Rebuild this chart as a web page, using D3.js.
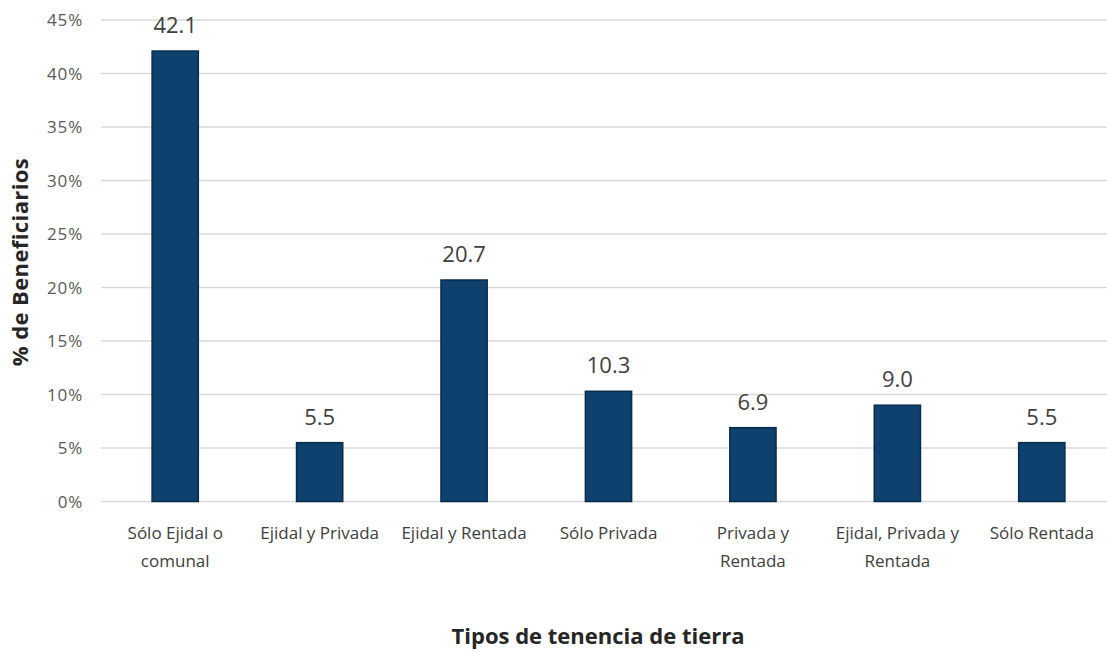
<!DOCTYPE html>
<html>
<head>
<meta charset="utf-8">
<style>
  body { margin: 0; background: #fff; }
  text { font-family: "Open Sans", Lato, sans-serif; }
</style>
</head>
<body>
<svg width="1107" height="652"></svg>
<script src="https://cdn.jsdelivr.net/npm/d3@7"></script>
<script>
  var categories = [["Sólo Ejidal o", "comunal"], ["Ejidal y Privada"], ["Ejidal y Rentada"], ["Sólo Privada"], ["Privada y", "Rentada"], ["Ejidal, Privada y", "Rentada"], ["Sólo Rentada"]];
  var values = [42.1, 5.5, 20.7, 10.3, 6.9, 9.0, 5.5];
  var yTicks = [0, 5, 10, 15, 20, 25, 30, 35, 40, 45];

  var svg = d3.select("svg"),
      width = +svg.attr("width"),
      height = +svg.attr("height");

  var x = d3.scaleBand()
      .domain(d3.range(categories.length))
      .range([103, 1114])
      .paddingInner(0.68)
      .paddingOuter(0.34);

  var y = d3.scaleLinear().domain([0, 45]).range([501.5, 20]);

  // grid
  svg.append("g").selectAll("line")
    .data(yTicks)
    .enter().append("line")
      .attr("x1", 101).attr("x2", width)
      .attr("y1", function(d) { return y(d); })
      .attr("y2", function(d) { return y(d); })
      .attr("stroke", "#d9d9d9")
      .attr("stroke-width", 1.3);

  // y tick labels
  svg.append("g").selectAll("text")
    .data(yTicks)
    .enter().append("text")
      .attr("x", 83)
      .attr("y", function(d) { return y(d) + 6; })
      .attr("text-anchor", "end")
      .attr("fill", "#595959")
      .style("font-size", "17px")
      .style("letter-spacing", "0.8px")
      .text(function(d) { return d + "%"; });

  // bars
  svg.append("g").selectAll("rect")
    .data(values)
    .enter().append("rect")
      .attr("x", function(d, i) { return x(i); })
      .attr("y", function(d) { return y(d); })
      .attr("width", x.bandwidth())
      .attr("height", function(d) { return y(0) - y(d); })
      .attr("fill", "#0e416d")
      .attr("stroke", "#0a2c4c")
      .attr("stroke-width", 1.5);

  // value labels
  svg.append("g").selectAll("text")
    .data(values)
    .enter().append("text")
      .attr("x", function(d, i) { return x(i) + x.bandwidth() / 2; })
      .attr("y", function(d) { return y(d) - 18; })
      .attr("text-anchor", "middle")
      .attr("fill", "#404040")
      .style("font-size", "22px")
      .text(function(d) { return d.toFixed(1); });

  // category labels
  var cat = svg.append("g").selectAll("text")
    .data(categories)
    .enter().append("text")
      .attr("x", function(d, i) { return x(i) + x.bandwidth() / 2; })
      .attr("y", 539)
      .attr("text-anchor", "middle")
      .attr("fill", "#404040")
      .style("font-size", "17px");
  cat.selectAll("tspan")
    .data(function(d) { return d; })
    .enter().append("tspan")
      .attr("x", function() { return d3.select(this.parentNode).attr("x"); })
      .attr("dy", function(d, i) { return i ? 28 : 0; })
      .text(function(d) { return d; });

  // axis titles
  svg.append("text")
    .attr("x", 598)
    .attr("y", 644)
    .attr("text-anchor", "middle")
    .attr("fill", "#262626")
    .style("font-size", "22px")
    .style("font-weight", "bold")
    .text("Tipos de tenencia de tierra");

  svg.append("text")
    .attr("transform", "translate(28,262) rotate(-90)")
    .attr("text-anchor", "middle")
    .attr("fill", "#262626")
    .style("font-size", "22px")
    .style("font-weight", "bold")
    .style("letter-spacing", "0.4px")
    .text("% de Beneficiarios");
</script>
</body>
</html>
